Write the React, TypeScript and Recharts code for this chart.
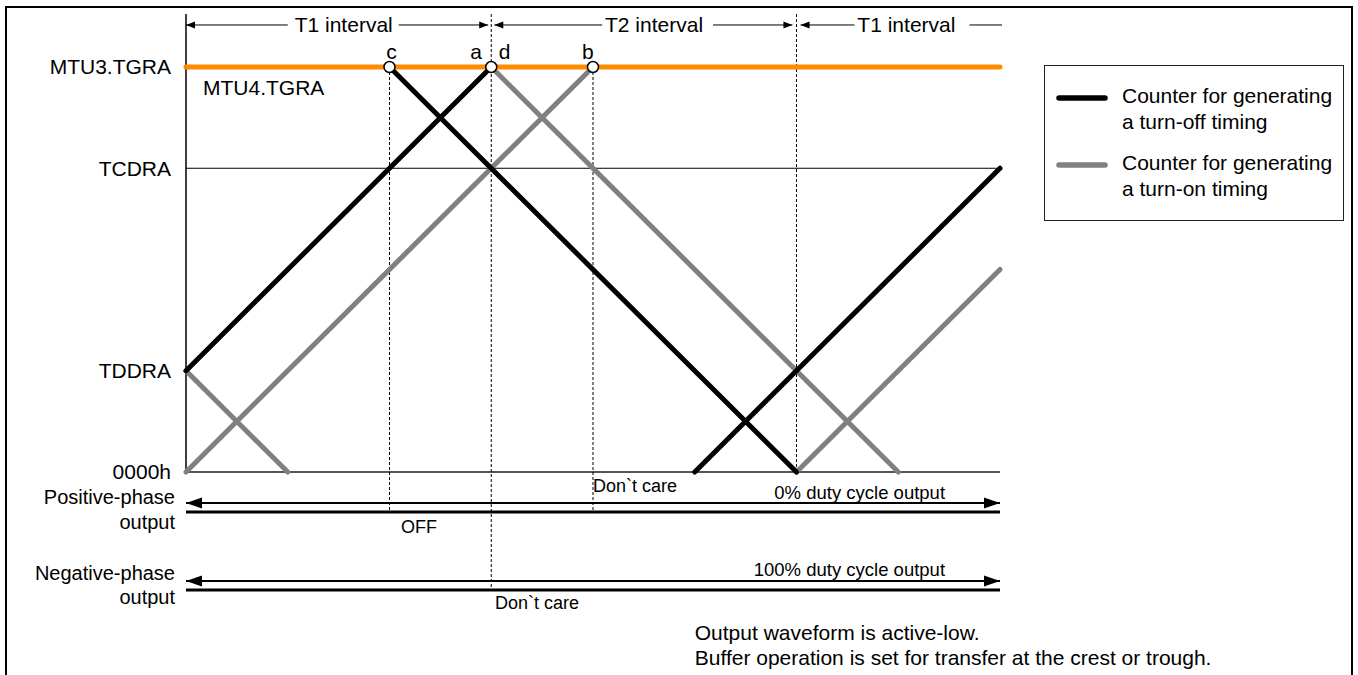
import React from 'react';
import { ComposedChart, Line, XAxis, YAxis, ReferenceLine, ReferenceDot, Legend } from 'recharts';

const FONT = '"Liberation Sans", Arial, Helvetica, sans-serif';

// ---- axis ticks ----
const yTickValues = [0, 1, 3, 4];
const yTickLabels = ['0000h', 'TDDRA', 'TCDRA', 'MTU3.TGRA'];

// ---- counter waveforms (x: time units, y: counter level) ----
const turnOffCounter = [
  [{ x: 0, y: 1 }, { x: 3, y: 4 }],
  [{ x: 2, y: 4 }, { x: 6, y: 0 }],
  [{ x: 5, y: 0 }, { x: 8, y: 3 }],
];
const turnOnCounter = [
  [{ x: 0, y: 1 }, { x: 1, y: 0 }],
  [{ x: 0, y: 0 }, { x: 4, y: 4 }],
  [{ x: 3, y: 4 }, { x: 7, y: 0 }],
  [{ x: 6, y: 0 }, { x: 8, y: 2 }],
];
const tgraLevel = [{ x: 0, y: 4 }, { x: 8, y: 4 }];

// ---- compare-match points and letters ----
const matchPoints = [{ x: 2, y: 4 }, { x: 3, y: 4 }, { x: 4, y: 4 }];
const matchLetters = [
  { x: 2.02, text: 'c' },
  { x: 2.85, text: 'a' },
  { x: 3.13, text: 'd' },
  { x: 3.95, text: 'b' },
];
const letterRowY = 4.148;

// ---- interval annotation row ----
const intervalRowY = 4.415;
const intervalLabels = [
  { x: 1.55, text: 'T1 interval' },
  { x: 4.6, text: 'T2 interval' },
  { x: 7.08, text: 'T1 interval' },
];
const intervalRules = [
  [0, 1.0], [2.09, 2.97], [3.03, 4.09], [5.18, 5.96], [6.04, 6.57], [7.7, 8.02],
];
const intervalTips = [
  { x: 0, dir: 'left' }, { x: 2.97, dir: 'right' }, { x: 3.03, dir: 'left' },
  { x: 5.96, dir: 'right' }, { x: 6.04, dir: 'left' },
];
const axisTopY = 4.523;

// ---- dashed guides ----
const dashedGuides = [
  { x: 2, from: 4, to: -0.395 },
  { x: 3, from: axisTopY, to: -1.165 },
  { x: 4, from: 4, to: -0.395 },
  { x: 6, from: axisTopY, to: 0 },
];

// ---- output rows ----
const phaseRows = [
  { arrowY: -0.306, barY: -0.395 },
  { arrowY: -1.077, barY: -1.165 },
];

// ---- free text ----
const annotations = [
  { x: 0.167, y: 3.8, text: 'MTU4.TGRA', anchor: 'start', size: 21 },
  { x: -0.108, y: -0.247, text: 'Positive-phase', anchor: 'end', size: 20 },
  { x: -0.108, y: -0.494, text: 'output', anchor: 'end', size: 20 },
  { x: -0.108, y: -0.998, text: 'Negative-phase', anchor: 'end', size: 20 },
  { x: -0.108, y: -1.235, text: 'output', anchor: 'end', size: 20 },
  { x: 4.0, y: -0.138, text: 'Don`t care', anchor: 'start', size: 18 },
  { x: 2.113, y: -0.543, text: 'OFF', anchor: 'start', size: 18 },
  { x: 7.46, y: -0.198, text: '0% duty cycle output', anchor: 'end', size: 18.5 },
  { x: 7.46, y: -0.958, text: '100% duty cycle output', anchor: 'end', size: 18.5 },
  { x: 3.037, y: -1.294, text: 'Don`t care', anchor: 'start', size: 18 },
  { x: 5.0, y: -1.59, text: 'Output waveform is active-low.', anchor: 'start', size: 21 },
  { x: 5.0, y: -1.837, text: 'Buffer operation is set for transfer at the crest or trough.', anchor: 'start', size: 21 },
];

const legendItems = [
  { color: '#000000', value: 'Counter for generating\na turn-off timing' },
  { color: '#808080', value: 'Counter for generating\na turn-on timing' },
];

const textShape = (text: string, anchor: string, size: number) => (p: any) => (
  <text x={p.cx} y={p.cy} dy="0.355em" textAnchor={anchor} fontSize={size} fontFamily={FONT} fill="#000">
    {text}
  </text>
);

const arrowShape = (dir: string, len: number, half: number) => (p: any) => {
  const s = dir === 'left' ? 1 : -1;
  const { cx, cy } = p;
  return <polygon points={`${cx},${cy} ${cx + s * len},${cy - half} ${cx + s * len},${cy + half}`} fill="#000" />;
};

const renderLegend = (props: any) => {
  const fromPayload = (props.payload || []).filter((e: any) => e.type !== 'none' && e.value);
  const items = fromPayload.length ? fromPayload : legendItems;
  return (
    <div
      style={{
        boxSizing: 'border-box', width: 300, height: 156, border: '1.5px solid #222',
        background: '#fff', position: 'relative', fontFamily: FONT, fontSize: 21, color: '#000',
      }}
    >
      {items.map((it: any, i: number) => (
        <div key={i} style={{ position: 'absolute', left: 0, top: 17 + i * 67, width: 300, height: 52 }}>
          <svg width={54} height={10} style={{ position: 'absolute', left: 10, top: 10 }}>
            <line x1={4} y1={5} x2={50} y2={5} stroke={it.color} strokeWidth={5.5} strokeLinecap="round" />
          </svg>
          <div style={{ position: 'absolute', left: 77, top: 0, lineHeight: '26px', whiteSpace: 'pre' }}>
            {String(it.value)}
          </div>
        </div>
      ))}
    </div>
  );
};

export default function App() {
  return (
    <div style={{ position: 'absolute', left: 0, top: 0, width: 1358, height: 675, background: '#fff', overflow: 'hidden' }}>
      <div
        style={{
          position: 'absolute', left: 5, top: 6, width: 1348, height: 720,
          border: '2px solid #000', boxSizing: 'border-box',
        }}
      />
      <div style={{ position: 'absolute', left: 0, top: 0 }}>
        <ComposedChart width={1358} height={675} margin={{ top: 67, right: 358, bottom: 203, left: 0 }}>
          <XAxis type="number" dataKey="x" domain={[0, 8]} hide />
          <YAxis
            type="number"
            domain={[0, 4]}
            ticks={yTickValues}
            interval={0}
            width={186}
            axisLine={false}
            tickLine={false}
            tickSize={0}
            tickMargin={15}
            tickFormatter={(v: number) => yTickLabels[yTickValues.indexOf(v)] ?? ''}
            tick={{ fontSize: 21, fill: '#000', fontFamily: FONT }}
          />
          <Legend
            layout="horizontal"
            verticalAlign="middle"
            align="center"
            content={renderLegend}
            wrapperStyle={{ left: 1044, top: 65, width: 300, height: 156 }}
          />

          <ReferenceLine y={3} stroke="#000" strokeWidth={1} ifOverflow="visible" />
          <ReferenceLine y={0} stroke="#555" strokeWidth={2} ifOverflow="visible" />
          <ReferenceLine
            segment={[{ x: 0, y: 0 }, { x: 0, y: axisTopY }]}
            stroke="#000"
            strokeWidth={1.5}
            ifOverflow="visible"
          />
          {dashedGuides.map((g, i) => (
            <ReferenceLine
              key={`dg${i}`}
              segment={[{ x: g.x, y: g.from }, { x: g.x, y: g.to }]}
              stroke="#000"
              strokeWidth={1}
              strokeDasharray="3 2"
              ifOverflow="visible"
            />
          ))}
          {intervalRules.map((r, i) => (
            <ReferenceLine
              key={`ir${i}`}
              segment={[{ x: r[0], y: intervalRowY }, { x: r[1], y: intervalRowY }]}
              stroke="#000"
              strokeWidth={1}
              ifOverflow="visible"
            />
          ))}
          {intervalTips.map((t, i) => (
            <ReferenceDot key={`it${i}`} x={t.x} y={intervalRowY} r={0} ifOverflow="visible" shape={arrowShape(t.dir, 9, 3.5)} />
          ))}
          {intervalLabels.map((l, i) => (
            <ReferenceDot key={`il${i}`} x={l.x} y={intervalRowY} r={0} ifOverflow="visible" shape={textShape(l.text, 'middle', 21)} />
          ))}
          {phaseRows.map((row, i) => (
            <ReferenceLine
              key={`pa${i}`}
              segment={[{ x: 0, y: row.arrowY }, { x: 8, y: row.arrowY }]}
              stroke="#000"
              strokeWidth={2}
              ifOverflow="visible"
            />
          ))}
          {phaseRows.map((row, i) => (
            <ReferenceLine
              key={`pb${i}`}
              segment={[{ x: 0, y: row.barY }, { x: 8, y: row.barY }]}
              stroke="#000"
              strokeWidth={3}
              ifOverflow="visible"
            />
          ))}
          {phaseRows.map((row, i) => (
            <ReferenceDot key={`pl${i}`} x={0} y={row.arrowY} r={0} ifOverflow="visible" shape={arrowShape('left', 16, 5.5)} />
          ))}
          {phaseRows.map((row, i) => (
            <ReferenceDot key={`pr${i}`} x={8} y={row.arrowY} r={0} ifOverflow="visible" shape={arrowShape('right', 16, 5.5)} />
          ))}

          {turnOnCounter.map((seg, i) => (
            <Line
              key={`on${i}`}
              data={seg}
              dataKey="y"
              type="linear"
              name={i === 0 ? legendItems[1].value : undefined}
              legendType={i === 0 ? 'plainline' : 'none'}
              stroke="#808080"
              strokeWidth={5}
              strokeLinecap="round"
              dot={false}
              activeDot={false}
              isAnimationActive={false}
            />
          ))}
          {turnOffCounter.map((seg, i) => (
            <Line
              key={`off${i}`}
              data={seg}
              dataKey="y"
              type="linear"
              name={i === 0 ? legendItems[0].value : undefined}
              legendType={i === 0 ? 'plainline' : 'none'}
              stroke="#000"
              strokeWidth={5}
              strokeLinecap="round"
              dot={false}
              activeDot={false}
              isAnimationActive={false}
            />
          ))}
          <Line
            data={tgraLevel}
            dataKey="y"
            type="linear"
            legendType="none"
            stroke="#FF8C00"
            strokeWidth={5}
            strokeLinecap="round"
            dot={false}
            activeDot={false}
            isAnimationActive={false}
          />
          {matchPoints.map((p, i) => (
            <ReferenceDot key={`mp${i}`} x={p.x} y={p.y} r={5.5} fill="#fff" stroke="#000" strokeWidth={1.5} ifOverflow="visible" />
          ))}
          {matchLetters.map((l, i) => (
            <ReferenceDot key={`ml${i}`} x={l.x} y={letterRowY} r={0} ifOverflow="visible" shape={textShape(l.text, 'middle', 21)} />
          ))}
          {annotations.map((a, i) => (
            <ReferenceDot key={`an${i}`} x={a.x} y={a.y} r={0} ifOverflow="visible" shape={textShape(a.text, a.anchor, a.size)} />
          ))}
        </ComposedChart>
      </div>
    </div>
  );
}
